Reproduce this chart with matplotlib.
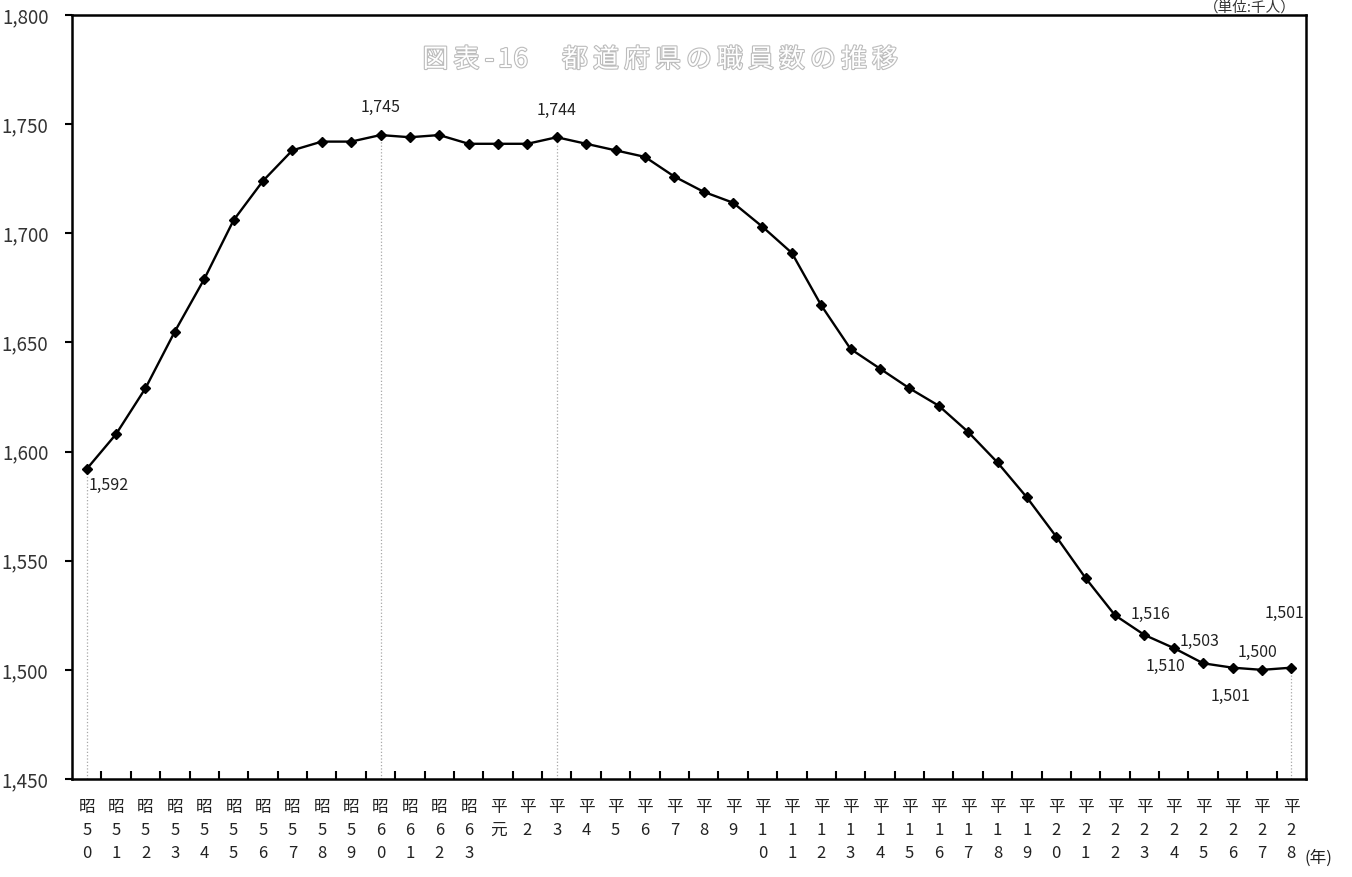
import matplotlib
matplotlib.use("Agg")
import matplotlib.pyplot as plt
import matplotlib.patheffects as pe
from matplotlib import font_manager
from matplotlib.ticker import FuncFormatter, FixedLocator

# 年次（昭和50年〜平成28年）
years = ['昭50', '昭51', '昭52', '昭53', '昭54', '昭55', '昭56', '昭57', '昭58', '昭59',
         '昭60', '昭61', '昭62', '昭63', '平元', '平2', '平3', '平4', '平5', '平6',
         '平7', '平8', '平9', '平10', '平11', '平12', '平13', '平14', '平15', '平16',
         '平17', '平18', '平19', '平20', '平21', '平22', '平23', '平24', '平25', '平26',
         '平27', '平28']

# 都道府県の職員数（千人）
staff = [1592, 1608, 1629, 1655, 1679, 1706, 1724, 1738, 1742, 1742,
         1745, 1744, 1745, 1741, 1741, 1741, 1744, 1741, 1738, 1735,
         1726, 1719, 1714, 1703, 1691, 1667, 1647, 1638, 1629, 1621,
         1609, 1595, 1579, 1561, 1542, 1525, 1516, 1510, 1503, 1501,
         1500, 1501]

# labelled points and where their text sits (offset in pixels)
label_idx = [0, 10, 16, 36, 37, 38, 39, 40, 41]
label_off = [(2, -16), (0, 28), (0, 27), (6, 20), (-8, -18), (-4, 22), (-2, -29), (-4, 17), (-7, 54)]
drop_idx = [0, 10, 16, 41]

title = '図表-16  都道府県の職員数の推移'
unit = '（単位:千人）'

installed = {f.name for f in font_manager.fontManager.ttflist}
narrow = 'Liberation Sans Narrow' if 'Liberation Sans Narrow' in installed else 'Noto Sans CJK JP'
num_font = [narrow, 'Noto Sans CJK JP', 'DejaVu Sans']
jp_font = ['Noto Sans CJK JP', 'DejaVu Sans']
plt.rcParams['font.family'] = num_font

W, H = 1352, 877
fig = plt.figure(figsize=(W / 100, H / 100), dpi=100)
ax = fig.add_axes([72 / W, 1 - 779 / H, (1306 - 72) / W, (779 - 15) / H])

x = list(range(len(years)))
ax.vlines([x[i] for i in drop_idx], 1450, [staff[i] for i in drop_idx],
          colors='#a8a8a8', linestyles=':', linewidth=0.9, zorder=1)
ax.plot(x, staff, color='black', linewidth=1.7, marker='D', markersize=4.8, zorder=3)

for i, (dx, dy) in zip(label_idx, label_off):
    ha = 'left' if i == 0 else 'center'
    ax.annotate(f'{staff[i]:,}', (x[i], staff[i]), xytext=(dx, dy),
                textcoords='offset pixels', ha=ha, va='center',
                fontsize=11.5, family=num_font, color='#222222')

ax.set_xlim(-0.5, len(years) - 0.5)
ax.set_ylim(1450, 1800)
ax.set_yticks(range(1450, 1801, 50))
ax.yaxis.set_major_formatter(FuncFormatter(lambda v, p: f'{int(v):,}'))
ax.tick_params(axis='y', direction='out', length=5, width=1.5, pad=12,
               labelsize=13.5, labelcolor='#333333')

vert_labels = ['\n'.join(list(y)) for y in years]
ax.set_xticks(x)
ax.set_xticklabels(vert_labels, family=num_font, fontsize=12, linespacing=1.45,
                   va='top', color='#222222')
ax.tick_params(axis='x', which='major', length=0, pad=14.5)
ax.xaxis.set_minor_locator(FixedLocator([i + 0.5 for i in x[:-1]]))
ax.tick_params(axis='x', which='minor', direction='in', length=6, width=1.5)

for s in ax.spines.values():
    s.set_linewidth(1.8)
    s.set_color('black')

# hollow title, laid out glyph by glyph to get the wide letter pitch
cx = 420
for ch in title:
    adv = 15.5 if ord(ch) < 128 else 31
    if ch != ' ':
        fig.text((cx + adv / 2) / W, 1 - 60 / H, ch, ha='center', va='center',
                 fontsize=18.5, family=jp_font, color='white',
                 path_effects=[pe.withStroke(linewidth=1.6, foreground='#bcbcbc')])
    cx += adv

fig.text(1250 / W, 1 - 8 / H, unit, ha='center', va='center', fontsize=10.5,
         family=jp_font, color='#333333')
fig.text(1318 / W, 1 - 858 / H, '(年)', ha='center', va='center', fontsize=12,
         family=num_font, color='#222222')

fig.savefig('out.png', dpi=100)
